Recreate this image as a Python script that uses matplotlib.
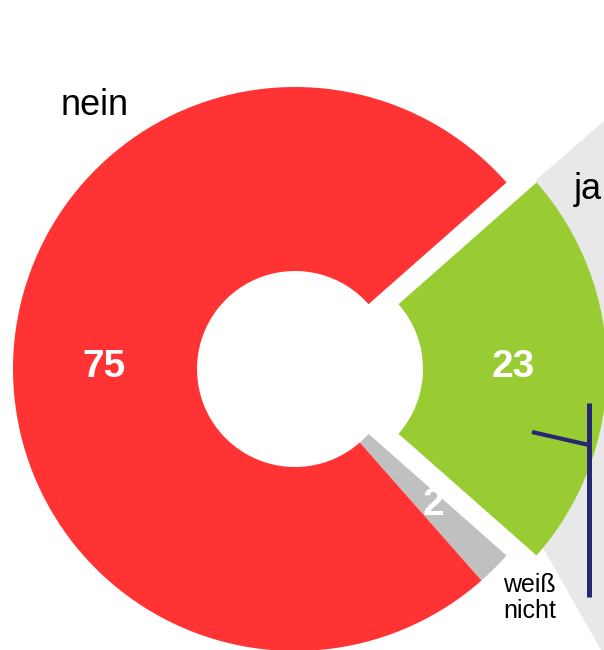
import matplotlib
matplotlib.use("Agg")
import matplotlib.pyplot as plt

# Antworten (Reihenfolge im Uhrzeigersinn, beginnend mit "ja")
labels = ["ja", "weiß\nnicht", "nein"]
values = [23, 2, 75]
colors = ["#99cc33", "#c0c0c0", "#ff3333"]

H = 650  # Bildhöhe in Pixeln, y nach oben
FONT = "Liberation Sans"

fig = plt.figure(figsize=(6.04, 6.5), dpi=100)
ax = fig.add_axes([0, 0, 1, 1])

# heller Hintergrundkeil hinter dem "ja"-Segment
bg_x = [536, 700, 700, 543]
bg_y = [H - 180, H - 38, H - 824, H - 548]
ax.fill(bg_x, bg_y, color="#e8e8e8", zorder=0, lw=0)

# Donut
ax.pie(values, colors=colors, radius=282, center=(295, H - 369),
       startangle=41.4, counterclock=False, explode=[30, 0, 0],
       wedgeprops=dict(width=184, linewidth=0), frame=False)

# Linien rechts (abgeschnittener Teil der Grafik)
navy = "#262673"
ax.plot([589, 589], [H - 403, H - 597], color=navy, lw=3.6, zorder=5,
        solid_capstyle="butt")
ax.plot([532, 589], [H - 432, H - 445], color=navy, lw=3, zorder=5,
        solid_capstyle="butt")

# Werte
for x, y, v in [(104, 377, values[2]), (513, 377, values[0]), (433, 515, values[1])]:
    ax.text(x, H - y, str(v), color="white", fontsize=28, fontweight="bold",
            ha="center", va="baseline", family=FONT, zorder=6)

# Kategorien
ax.text(94.5, H - 115, labels[2], fontsize=26, ha="center", va="baseline",
        family=FONT)
ax.text(574, H - 199, labels[0], fontsize=26, ha="left", va="baseline",
        family=FONT)
ax.text(503, H - 598, labels[1], fontsize=18, ha="left", va="center",
        family=FONT, linespacing=1.15)

ax.set_xlim(0, 604)
ax.set_ylim(0, H)
ax.set_aspect("equal")
ax.set_axis_off()

fig.savefig("out.png", dpi=100)
